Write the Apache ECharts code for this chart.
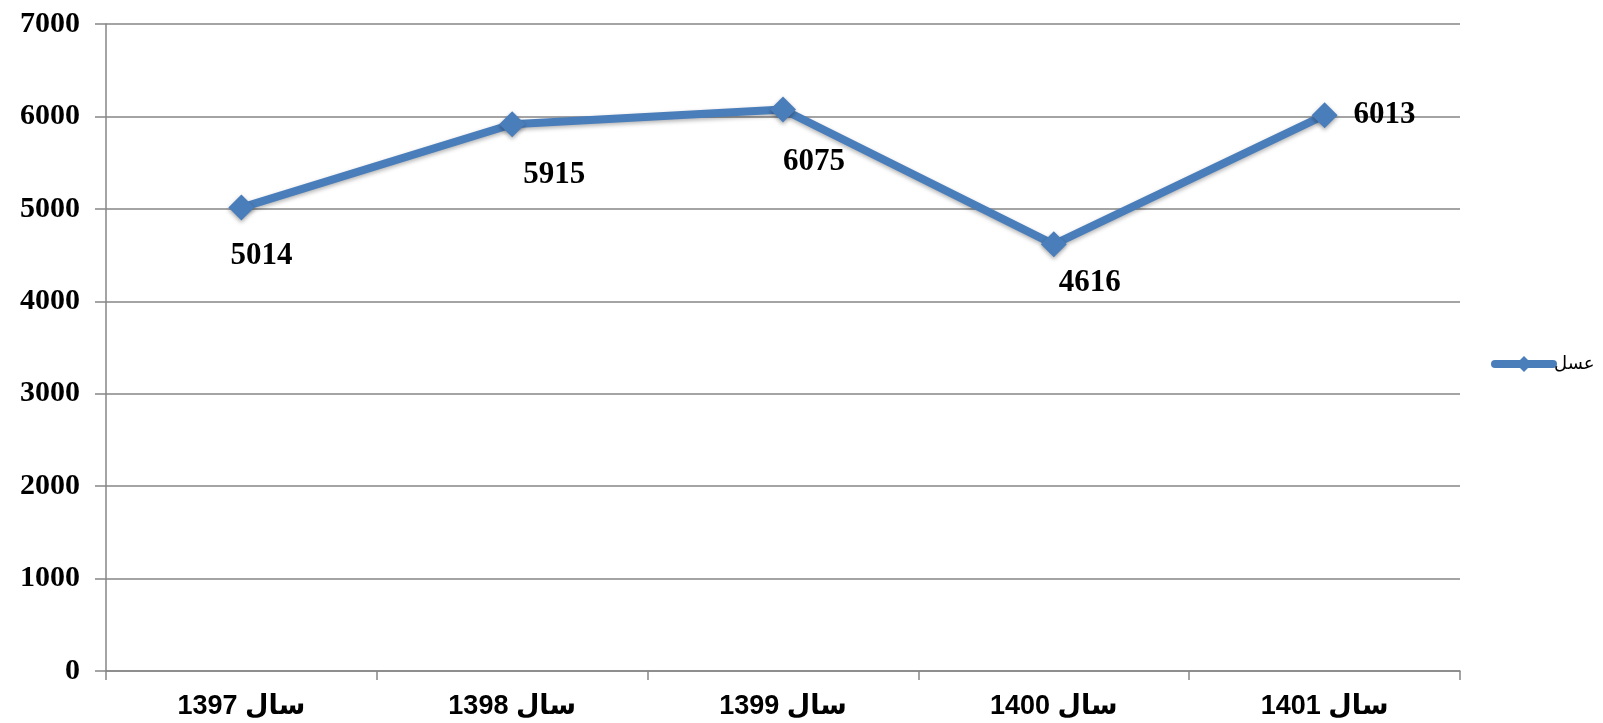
<!DOCTYPE html>
<html>
<head>
<meta charset="utf-8">
<script src="https://cdn.jsdelivr.net/npm/echarts@6/dist/echarts.min.js"></script>
<style>
  html, body { margin: 0; padding: 0; background: #fff; }
  #chart { width: 1603px; height: 723px; }
</style>
</head>
<body>
<div id="chart"></div>
<script>
// داده‌ها
const categories = ['سال 1397', 'سال 1398', 'سال 1399', 'سال 1400', 'سال 1401']
const honeyValues = [5014, 5915, 6075, 4616, 6013]
const seriesName = 'عسل'
// جابجایی برچسب هر نقطه
const labelOffsets = [[20, 48], [42, 51], [31, 52], [36, 39], [60, 0]]

const chart = echarts.init(document.getElementById('chart'))

const gray = '#868686'
const blue = '#4a7ebb'

chart.setOption({
  animation: false,
  grid: { left: 106, right: 143, top: 24, bottom: 52, containLabel: false },
  legend: {
    left: 1486,
    top: 350,
    orient: 'vertical',
    itemWidth: 58,
    itemHeight: 20,
    itemGap: 2,
    textStyle: { fontFamily: 'DejaVu Sans', fontSize: 18, color: '#000', padding: [0, 0, 0, -4] },
    data: [{
      name: seriesName,
      lineStyle: { width: 8, color: blue, cap: 'round' },
      itemStyle: { color: blue }
    }]
  },
  xAxis: {
    type: 'category',
    data: categories,
    boundaryGap: true,
    axisLine: { lineStyle: { color: gray, width: 1.5 } },
    axisTick: { show: true, length: 9, lineStyle: { color: gray, width: 1.5 } },
    axisLabel: {
      margin: 22,
      color: '#000',
      fontFamily: 'Liberation Sans, DejaVu Sans',
      fontWeight: 'bold',
      fontSize: 27
    }
  },
  yAxis: {
    type: 'value',
    min: 0,
    max: 7000,
    interval: 1000,
    axisLine: { show: true, lineStyle: { color: gray, width: 1.5 } },
    axisTick: { show: true, length: 11, lineStyle: { color: gray, width: 1.5 } },
    splitLine: { lineStyle: { color: gray, width: 1.5 } },
    axisLabel: {
      margin: 26,
      color: '#000',
      fontFamily: 'Liberation Serif',
      fontWeight: 'bold',
      fontSize: 30,
      formatter: (v) => String(v)
    }
  },
  series: [
    {
      name: seriesName,
      type: 'line',
      data: honeyValues.map((v, i) => ({
        value: v,
        label: { offset: labelOffsets[i] }
      })),
      symbol: 'diamond',
      symbolSize: 26,
      itemStyle: {
        color: blue,
        shadowBlur: 4,
        shadowColor: 'rgba(0,0,0,0.35)',
        shadowOffsetY: 2
      },
      lineStyle: {
        color: blue,
        width: 8,
        shadowBlur: 4,
        shadowColor: 'rgba(0,0,0,0.3)',
        shadowOffsetY: 2
      },
      label: {
        show: true,
        position: 'inside',
        color: '#000',
        fontFamily: 'Liberation Serif',
        fontWeight: 'bold',
        fontSize: 31
      }
    }
  ]
})
</script>
</body>
</html>
